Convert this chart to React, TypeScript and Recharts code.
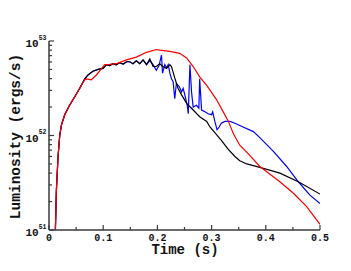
import { LineChart, Line, XAxis, YAxis } from 'recharts'

// time in seconds, luminosity in units of 1e51 ergs/s
const redTime = [
  0.0118, 0.0136, 0.0167, 0.0198, 0.0229, 0.029, 0.038, 0.0475, 0.0567, 0.066,
  0.069, 0.078, 0.0875, 0.097, 0.103, 0.112, 0.124, 0.143, 0.161, 0.18, 0.198,
  0.2045, 0.223, 0.241, 0.254, 0.266, 0.278, 0.291, 0.303, 0.309, 0.3215, 0.331,
  0.34, 0.352, 0.37, 0.389, 0.426, 0.451, 0.475, 0.5,
]
const redLum = [
  1.0, 2.6, 6.0, 10.0, 12.9, 16.6, 20.9, 25.7, 31.6, 38.9,
  39.8, 38.9, 43.7, 51.3, 56.2, 56.5, 57.5, 63.1, 67.6, 75.9, 81.3,
  80.0, 77.6, 74.1, 66.1, 53.7, 41.7, 33.9, 26.9, 24.0, 17.8, 14.1,
  10.5, 7.9, 6.2, 4.7, 3.24, 2.45, 1.78, 1.15,
]

const blackTime = [
  0.0118, 0.0136, 0.0167, 0.0198, 0.0229, 0.029, 0.038, 0.0475, 0.0567, 0.066,
  0.072, 0.081, 0.0905, 0.0997, 0.106, 0.112, 0.118, 0.124, 0.13, 0.137, 0.143,
  0.149, 0.155, 0.161, 0.1675, 0.1736, 0.18, 0.186, 0.192, 0.198, 0.2045, 0.21,
  0.217, 0.223, 0.226, 0.232, 0.238, 0.2446, 0.254, 0.266, 0.278, 0.291, 0.297,
  0.306, 0.318, 0.33, 0.343, 0.352, 0.365, 0.389, 0.426, 0.46, 0.5,
]
const blackLum = [
  1.0, 2.6, 6.0, 10.0, 12.9, 16.6, 20.9, 25.7, 31.6, 39.8,
  43.7, 47.9, 50.1, 51.3, 56.2, 55.0, 57.5, 56.0, 58.9, 57.0, 60.3,
  60.3, 57.5, 61.7, 57.5, 63.1, 56.2, 64.6, 53.7, 53.7, 57.5, 53.7,
  51.3, 56.2, 53.7, 40.7, 31.6, 26.9, 21.9, 18.6, 15.8, 14.1, 12.3,
  10.7, 8.9, 7.2, 6.0, 5.4, 5.0, 4.6, 4.0, 3.24, 2.4,
]

const blueTime = [
  0.0118, 0.0136, 0.0167, 0.0198, 0.0229, 0.029, 0.038, 0.0475, 0.0567, 0.066,
  0.072, 0.081, 0.0905, 0.0997, 0.106, 0.112, 0.118, 0.124, 0.13, 0.137, 0.143,
  0.149, 0.155, 0.161, 0.1675, 0.1736, 0.18, 0.186, 0.192, 0.198, 0.203, 0.2075,
  0.2095, 0.2137, 0.217, 0.22, 0.223, 0.226, 0.229, 0.232, 0.235, 0.24, 0.2446,
  0.2475, 0.2506, 0.255, 0.257, 0.26, 0.263, 0.266, 0.272, 0.2765, 0.278, 0.2815,
  0.2876, 0.2937, 0.3, 0.302, 0.306, 0.31, 0.314, 0.318, 0.3245, 0.334, 0.343,
  0.358, 0.377, 0.389, 0.414, 0.4385, 0.46, 0.4815, 0.5,
]
const blueLum = [
  1.0, 2.6, 6.0, 10.0, 12.9, 16.6, 20.9, 25.7, 31.6, 39.8,
  43.7, 47.9, 50.1, 51.3, 56.2, 55.0, 57.5, 56.0, 58.9, 57.0, 60.3,
  60.3, 57.5, 61.7, 57.5, 63.1, 56.2, 62.0, 56.2, 49.0, 55.0, 70.8,
  45.7, 56.2, 52.0, 56.2, 45.7, 39.8, 37.2, 24.5, 35.5, 33.1, 28.8,
  31.6, 26.9, 20.9, 17.0, 56.2, 28.8, 20.0, 20.9, 19.5, 39.8, 18.6,
  17.8, 17.0, 16.6, 17.8, 14.1, 11.5, 12.3, 13.5, 14.1, 14.1, 13.5,
  12.3, 11.0, 9.5, 6.8, 4.7, 3.24, 2.34, 1.91,
]

const xTicks = [0, 0.05, 0.1, 0.15, 0.2, 0.25, 0.3, 0.35, 0.4, 0.45, 0.5]
const xMajor = [0, 0.1, 0.2, 0.3, 0.4, 0.5]
const xLabels = ['0', '0.1', '0.2', '0.3', '0.4', '0.5']
const yTicks = [1, 2, 3, 4, 5, 6, 7, 8, 9, 10, 20, 30, 40, 50, 60, 70, 80, 90, 100]
const yMajor = [1, 10, 100]
const yExponents = ['51', '52', '53']

const FONT = '"Liberation Mono", "DejaVu Sans Mono", monospace'
const FRAME = '#3a3a3a'

function toPoints(time: number[], lum: number[]) {
  return time.map((t, i) => ({ t, lum: lum[i] }))
}

const redData = toPoints(redTime, redLum)
const blackData = toPoints(blackTime, blackLum)
const blueData = toPoints(blueTime, blueLum)

function majorIndex(v: number) {
  return xMajor.findIndex((m) => Math.abs(m - v) < 1e-9)
}

function BottomTick(props: any) {
  const { x, y, payload } = props
  const idx = majorIndex(payload.value)
  const len = idx >= 0 ? 5 : 3
  return (
    <g>
      <line x1={x} x2={x} y1={y} y2={y - len} stroke={FRAME} strokeWidth={1.2} />
      {idx >= 0 && (
        <text x={x} y={y + 10.5} textAnchor="middle" fontFamily={FONT} fontWeight="bold" fontSize={10} fill="#111">
          {xLabels[idx]}
        </text>
      )}
    </g>
  )
}

function TopTick(props: any) {
  const { x, y, payload } = props
  const len = majorIndex(payload.value) >= 0 ? 5 : 3
  return <line x1={x} x2={x} y1={y} y2={y + len} stroke={FRAME} strokeWidth={1.2} />
}

function LeftTick(props: any) {
  const { x, y, payload } = props
  const idx = yMajor.indexOf(payload.value)
  const len = idx >= 0 ? 5 : 3
  return (
    <g>
      <line x1={x} x2={x + len} y1={y} y2={y} stroke={FRAME} strokeWidth={1.2} />
      {idx >= 0 && (
        <text x={x - 2.5} y={y + 6} textAnchor="end" fontFamily={FONT} fontWeight="bold" fontSize={11} fill="#111">
          10
          <tspan fontSize={6.5} dy={-7.5}>{yExponents[idx]}</tspan>
        </text>
      )}
    </g>
  )
}

function RightTick(props: any) {
  const { x, y, payload } = props
  const len = yMajor.includes(payload.value) ? 5 : 3
  return <line x1={x} x2={x - len} y1={y} y2={y} stroke={FRAME} strokeWidth={1.2} />
}

export default function App() {
  return (
    <div style={{ position: 'absolute', left: 0, top: 0, width: 351, height: 271, background: '#fff' }}>
      <LineChart width={351} height={271} margin={{ top: 41, right: 31, bottom: 0, left: 0 }}>
        <XAxis
          xAxisId="bottom"
          dataKey="t"
          type="number"
          domain={[0, 0.5]}
          ticks={xTicks}
          interval={0}
          allowDataOverflow
          height={41}
          tickSize={0}
          tickMargin={0}
          tickLine={false}
          axisLine={{ stroke: FRAME, strokeWidth: 1.5 }}
          tick={(p: any) => <BottomTick {...p} />}
        />
        <XAxis
          xAxisId="top"
          orientation="top"
          dataKey="t"
          type="number"
          domain={[0, 0.5]}
          ticks={xTicks}
          interval={0}
          allowDataOverflow
          height={0}
          tickSize={0}
          tickMargin={0}
          tickLine={false}
          axisLine={{ stroke: FRAME, strokeWidth: 1.5 }}
          tick={(p: any) => <TopTick {...p} />}
        />
        <YAxis
          yAxisId="left"
          dataKey="lum"
          type="number"
          scale="log"
          domain={[1, 100]}
          ticks={yTicks}
          interval={0}
          allowDataOverflow
          width={49}
          tickSize={0}
          tickMargin={0}
          tickLine={false}
          axisLine={{ stroke: FRAME, strokeWidth: 1.5 }}
          tick={(p: any) => <LeftTick {...p} />}
        />
        <YAxis
          yAxisId="right"
          orientation="right"
          dataKey="lum"
          type="number"
          scale="log"
          domain={[1, 100]}
          ticks={yTicks}
          interval={0}
          allowDataOverflow
          width={0}
          tickSize={0}
          tickMargin={0}
          tickLine={false}
          axisLine={{ stroke: FRAME, strokeWidth: 1.5 }}
          tick={(p: any) => <RightTick {...p} />}
        />
        <Line
          data={redData}
          xAxisId="top"
          yAxisId="right"
          dataKey="lum"
          stroke="none"
          dot={false}
          isAnimationActive={false}
        />
        <Line
          data={blueData}
          xAxisId="bottom"
          yAxisId="left"
          dataKey="lum"
          type="linear"
          stroke="#0000ff"
          strokeWidth={1.2}
          dot={false}
          isAnimationActive={false}
        />
        <Line
          data={blackData}
          xAxisId="bottom"
          yAxisId="left"
          dataKey="lum"
          type="linear"
          stroke="#000000"
          strokeWidth={1.2}
          dot={false}
          isAnimationActive={false}
        />
        <Line
          data={redData}
          xAxisId="bottom"
          yAxisId="left"
          dataKey="lum"
          type="linear"
          stroke="#ff0000"
          strokeWidth={1.2}
          dot={false}
          isAnimationActive={false}
        />
      </LineChart>
      <svg width={351} height={271} style={{ position: 'absolute', left: 0, top: 0, pointerEvents: 'none' }}>
        <text x={185} y={254} textAnchor="middle" fontFamily={FONT} fontWeight="bold" fontSize={14} fill="#111">
          Time (s)
        </text>
        <text
          x={19.5}
          y={136.5}
          transform="rotate(-90, 19.5, 136.5)"
          textAnchor="middle"
          fontFamily={FONT}
          fontWeight="bold"
          fontSize={14.5}
          fill="#111"
        >
          Luminosity (ergs/s)
        </text>
      </svg>
    </div>
  )
}
